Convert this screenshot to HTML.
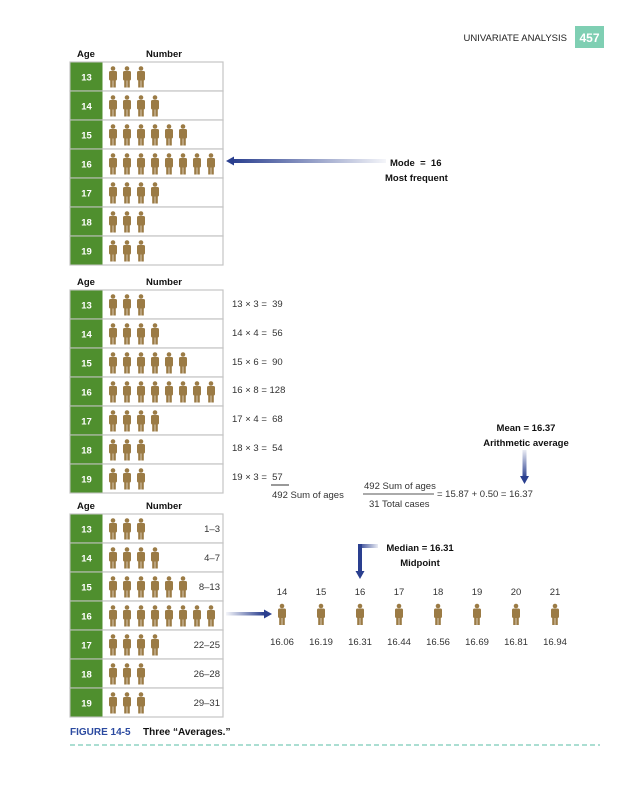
<!DOCTYPE html>
<html><head><meta charset="utf-8"><style>
html,body{margin:0;padding:0;background:#fff;}
svg{display:block;font-family:"Liberation Sans",Arial,sans-serif;}
svg text{white-space:pre;}
</style></head><body>
<svg id="s" width="636" height="800" viewBox="0 0 636 800" xmlns="http://www.w3.org/2000/svg" xml:space="preserve">
<defs>
<linearGradient id="gh" x1="0" x2="1" y1="0" y2="0"><stop offset="0" stop-color="#2a3f8f"/><stop offset="1" stop-color="#2a3f8f" stop-opacity="0.05"/></linearGradient>
<linearGradient id="gv" x1="0" x2="0" y1="0" y2="1"><stop offset="0" stop-color="#2a3f8f" stop-opacity="0.1"/><stop offset="1" stop-color="#2a3f8f"/></linearGradient>
<linearGradient id="gh2" x1="1" x2="0" y1="0" y2="0"><stop offset="0" stop-color="#2a3f8f" stop-opacity="0.1"/><stop offset="1" stop-color="#2a3f8f"/></linearGradient>
<g id="p" fill="#9b7b45"><circle cx="0" cy="-8" r="2.3"/><rect x="-4" y="-5.5" width="8" height="9.5" rx="1.5"/><rect x="-2.8" y="3" width="2.5" height="8"/><rect x="0.3" y="3" width="2.5" height="8"/></g>
</defs>
<text x="567" y="41" font-size="9.5" text-anchor="end" fill="#222">UNIVARIATE ANALYSIS</text>
<rect x="575" y="26" width="29" height="22" fill="#7fcfb3"/>
<text x="589.5" y="42" font-size="12" font-weight="bold" fill="#fff" text-anchor="middle">457</text>
<g id="tables"></g>
<rect x="232" y="159" width="154" height="4" fill="url(#gh)"/>
<polygon points="226,161 234,156.5 234,165.5" fill="#2a3f8f"/>
<text x="390" y="166" font-size="9.5" font-weight="bold" fill="#111">Mode  =  16</text>
<text x="385" y="181" font-size="9.5" font-weight="bold" fill="#111">Most frequent</text>
<g font-size="9.5" fill="#333">
<text x="232" y="307">13 × 3 =  39</text>
<text x="232" y="336">14 × 4 =  56</text>
<text x="232" y="365">15 × 6 =  90</text>
<text x="232" y="393">16 × 8 = 128</text>
<text x="232" y="422">17 × 4 =  68</text>
<text x="232" y="451">18 × 3 =  54</text>
<text x="232" y="480">19 × 3 =  57</text>
<line x1="271" y1="485" x2="289" y2="485" stroke="#333" stroke-width="1"/>
<text x="272" y="498">492 Sum of ages</text>
<text x="364" y="489">492 Sum of ages</text>
<line x1="363" y1="494" x2="434" y2="494" stroke="#555" stroke-width="1"/>
<text x="369" y="507">31 Total cases</text>
<text x="437" y="497">= 15.87 + 0.50 = 16.37</text>
</g>
<text x="526" y="431" font-size="9.5" font-weight="bold" text-anchor="middle" fill="#111">Mean = 16.37</text>
<text x="526" y="446" font-size="9.5" font-weight="bold" text-anchor="middle" fill="#111">Arithmetic average</text>
<rect x="522.5" y="450" width="4" height="28" fill="url(#gv)"/>
<polygon points="524.5,484 520,476 529,476" fill="#2a3f8f"/>
<text x="420" y="551" font-size="9.5" font-weight="bold" text-anchor="middle" fill="#111">Median = 16.31</text>
<text x="420" y="566" font-size="9.5" font-weight="bold" text-anchor="middle" fill="#111">Midpoint</text>
<rect x="358" y="544" width="20" height="4" fill="url(#gh2)"/>
<rect x="358" y="544" width="4" height="29" fill="#2a3f8f"/>
<polygon points="360,579 355.5,571 364.5,571" fill="#2a3f8f"/>
<rect x="226" y="612" width="38" height="3.5" fill="url(#gh)" transform="rotate(180 245 613.75)"/>
<polygon points="272,614 264,609.5 264,618.5" fill="#2a3f8f"/>
<g id="bottom" font-size="9.5" fill="#333" text-anchor="middle"></g>
<text x="70" y="735" font-size="10" font-weight="bold" fill="#2b4aa0">FIGURE 14-5</text>
<text x="143" y="735" font-size="10" font-weight="bold" fill="#111">Three “Averages.”</text>
<line x1="70" y1="745" x2="600" y2="745" stroke="#8fd4c4" stroke-width="1.5" stroke-dasharray="5,3"/>
</svg>
<script>
var NS="http://www.w3.org/2000/svg";
function el(n,a,p,t){var e=document.createElementNS(NS,n);for(var k in a)e.setAttribute(k,a[k]);if(t!=null)e.textContent=t;p.appendChild(e);return e;}
var g=document.getElementById("tables");
var counts=[3,4,6,8,4,3,3],ranges=["1–3","4–7","8–13","","22–25","26–28","29–31"];
[62,290,514].forEach(function(top,ti){
 el("text",{x:86,y:top-5,"font-size":9.5,"font-weight":"bold","text-anchor":"middle",fill:"#111"},g,"Age");
 el("text",{x:164,y:top-5,"font-size":9.5,"font-weight":"bold","text-anchor":"middle",fill:"#111"},g,"Number");
 for(var r=0;r<7;r++){
  var y=top+r*29;
  el("rect",{x:70,y:y,width:153,height:29,fill:"#fff",stroke:"#c4c4c4","stroke-width":1.2},g);
  el("rect",{x:70.5,y:y+0.5,width:32,height:28,fill:"#4f8f2e"},g);
  el("text",{x:86.5,y:y+18.5,"font-size":9.5,"font-weight":"bold","text-anchor":"middle",fill:"#fff"},g,String(13+r));
  for(var i=0;i<counts[r];i++) el("use",{href:"#p",x:113+i*14,y:y+14.5},g);
  if(ti==2&&ranges[r]) el("text",{x:220,y:y+18,"font-size":9.5,"text-anchor":"end",fill:"#333"},g,ranges[r]);
 }
});
var b=document.getElementById("bottom");
var vals=["16.06","16.19","16.31","16.44","16.56","16.69","16.81","16.94"];
for(var i=0;i<8;i++){var x=282+i*39;
 el("text",{x:x,y:595},b,String(14+i));
 el("use",{href:"#p",x:x,y:614},b);
 el("text",{x:x,y:645},b,vals[i]);}
</script>
</body></html>
